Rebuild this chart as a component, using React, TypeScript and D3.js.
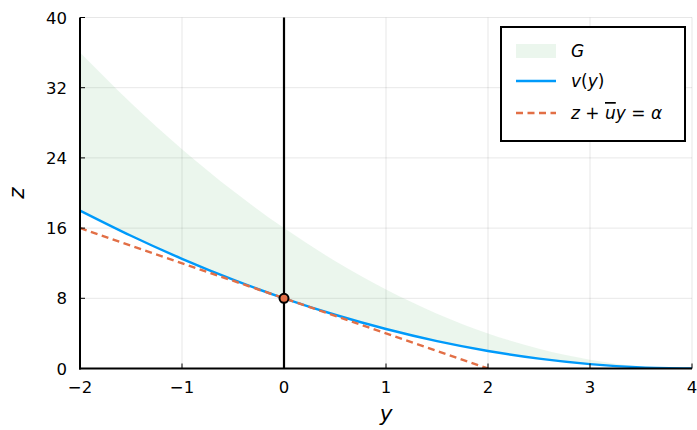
import React from "react";
import * as d3 from "d3";

const yGrid = [-2, -1.5, -1, -0.5, 0, 0.5, 1, 1.5, 2, 2.5, 3, 3.5, 4];
const vValues = [18, 15.125, 12.5, 10.125, 8, 6.125, 4.5, 3.125, 2, 1.125, 0.5, 0.125, 0];
const gUpper = [36, 30.25, 25, 20.25, 16, 12.25, 9, 6.25, 4, 2.25, 1, 0.25, 0];
const lineY = [-2, 2];
const lineZ = [16, 0];
const point = { y: 0, z: 8 };
const xTicks = [-2, -1, 0, 1, 2, 3, 4];
const zTicks = [0, 8, 16, 24, 32, 40];

const W = 697, H = 430;
const L = 80, R = 692, T = 17.5, B = 368.5;
const FONT = "DejaVu Sans, sans-serif";
const BLUE = "#009AFA", ORANGE = "#E26F46", GFILL = "#3EA44E";

export default function App() {
  const x = d3.scaleLinear().domain([-2, 4]).range([L, R]);
  const y = d3.scaleLinear().domain([0, 40]).range([B, T]);
  const idx = d3.range(yGrid.length);
  const area = d3.area<number>()
    .x(i => x(yGrid[i]))
    .y0(i => y(vValues[i]))
    .y1(i => y(gUpper[i]))
    .curve(d3.curveNatural);
  const vLine = d3.line<number>().x(i => x(yGrid[i])).y(i => y(vValues[i])).curve(d3.curveNatural);
  const straight = d3.line<number>().x(i => x(lineY[i])).y(i => y(lineZ[i]));
  const fmt = (v: number) => (v < 0 ? "\u2212" + Math.abs(v) : String(v));
  return (
    <svg width={W} height={H} style={{ position: "absolute", left: 0, top: 0, background: "#fff" }} fontFamily={FONT}>
      <defs>
        <clipPath id="pa"><rect x={L} y={T} width={R - L} height={B - T} /></clipPath>
      </defs>
      {xTicks.map(t => (
        <line key={"gx" + t} x1={x(t)} x2={x(t)} y1={T} y2={B} stroke="#000" strokeOpacity={0.12} strokeWidth={0.8} />
      ))}
      {zTicks.map(t => (
        <line key={"gz" + t} x1={L} x2={R} y1={y(t)} y2={y(t)} stroke="#000" strokeOpacity={0.12} strokeWidth={0.8} />
      ))}
      <g clipPath="url(#pa)">
        <path d={area(idx) || ""} fill={GFILL} fillOpacity={0.1} stroke="none" />
        <path d={vLine(idx) || ""} fill="none" stroke={BLUE} strokeWidth={2.4} />
        <path d={straight([0, 1]) || ""} fill="none" stroke={ORANGE} strokeWidth={2.4} strokeDasharray="7,4.5" />
      </g>
      <line x1={x(0)} x2={x(0)} y1={T} y2={B} stroke="#000" strokeWidth={2.2} />
      <circle cx={x(point.y)} cy={y(point.z)} r={4.5} fill={ORANGE} stroke="#000" strokeWidth={2} />
      {/* axes */}
      <line x1={L} x2={L} y1={T} y2={B + 1} stroke="#000" strokeWidth={2} />
      <line x1={L - 1} x2={R} y1={B} y2={B} stroke="#000" strokeWidth={2} />
      {xTicks.map(t => (
        <g key={"tx" + t}>
          <line x1={x(t)} x2={x(t)} y1={B} y2={B - 5} stroke="#000" strokeWidth={1} />
          <text x={x(t)} y={392.5} textAnchor="middle" fontSize={16.5}>{fmt(t)}</text>
        </g>
      ))}
      {zTicks.map(t => (
        <g key={"tz" + t}>
          <line x1={L} x2={L + 5} y1={y(t)} y2={y(t)} stroke="#000" strokeWidth={1} />
          <text x={67} y={y(t) + 6} textAnchor="end" fontSize={16.5}>{fmt(t)}</text>
        </g>
      ))}
      <text x={(L + R) / 2} y={420.5} textAnchor="middle" fontSize={21.5} fontStyle="italic">y</text>
      <text transform={`translate(24,${(T + B) / 2}) rotate(-90)`} textAnchor="middle" fontSize={21.5} fontStyle="italic">z</text>
      {/* legend */}
      <rect x={501} y={27} width={184} height={114} fill="#fff" stroke="#000" strokeWidth={2} />
      <rect x={516} y={44} width={40} height={14} fill={GFILL} fillOpacity={0.1} />
      <text x={571} y={57} fontSize={17} fontStyle="italic">G</text>
      <line x1={516} x2={556} y1={81} y2={81} stroke={BLUE} strokeWidth={2.4} />
      <text x={571} y={87} fontSize={17}>
        <tspan fontStyle="italic">v</tspan>(<tspan fontStyle="italic">y</tspan>)
      </text>
      <line x1={516} x2={556} y1={113} y2={113} stroke={ORANGE} strokeWidth={2.4} strokeDasharray="7,4.5" />
      <text x={571} y={119} fontSize={17}>
        <tspan fontStyle="italic">z</tspan> + <tspan fontStyle="italic" textDecoration="overline">u</tspan><tspan fontStyle="italic">y</tspan> = <tspan fontStyle="italic">α</tspan>
      </text>
    </svg>
  );
}
